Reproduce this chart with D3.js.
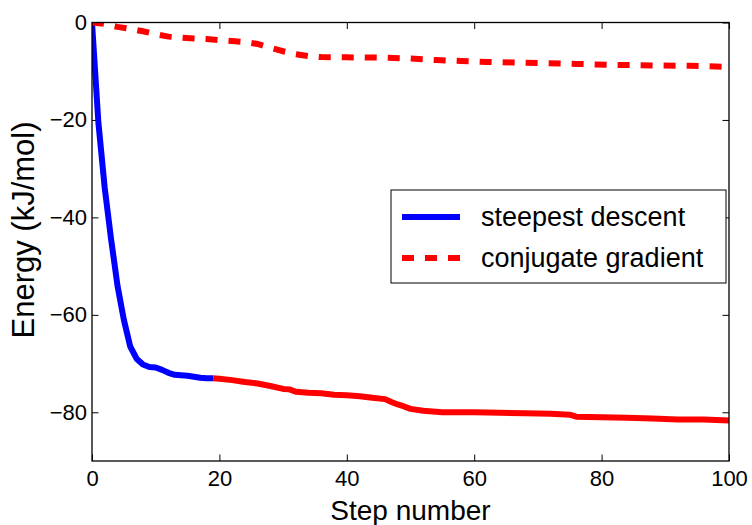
<!DOCTYPE html>
<html><head><meta charset="utf-8">
<script src="https://cdn.jsdelivr.net/npm/d3@7"></script>
<style>
body{margin:0;background:#fff;}
svg{display:block;font-family:"Liberation Sans",Arial,Helvetica,sans-serif;}
</style></head>
<body><svg id="chart" width="752" height="525"></svg>
<script>
// Steepest descent (blue)
const sdSteps  = [0,1,2,3,4,5,6,7,8,9,10,11,12,13,14,15,16,17,18,19];
const sdEnergy = [0,-20.5,-34,-44.5,-54,-61,-66.5,-69,-70.2,-70.7,-70.8,-71.3,-71.9,-72.3,-72.4,-72.5,-72.7,-72.9,-73.0,-73.0];
// Conjugate gradient continued from steepest descent end (red solid)
const cgContSteps  = [19,20,22,24,26,28,30,31,32,34,36,38,40,42,44,46,47,48,49,50,52,55,60,64,68,72,75,76,80,84,88,92,96,100];
const cgContEnergy = [-73.0,-73.1,-73.4,-73.8,-74.1,-74.6,-75.2,-75.3,-75.8,-76.0,-76.1,-76.4,-76.5,-76.7,-77.0,-77.3,-77.9,-78.4,-78.8,-79.3,-79.7,-80.0,-80.0,-80.1,-80.2,-80.3,-80.5,-80.9,-81.0,-81.1,-81.3,-81.5,-81.5,-81.7];
// Conjugate gradient (red dashed)
const cgSteps  = [0,2,4,6,8,10,12,14,16,18,20,22,24,26,28,30,32,34,36,40,46,50,54,58,62,66,70,76,82,88,94,100];
const cgEnergy = [0,-0.3,-0.9,-1.3,-1.8,-2.4,-2.9,-3.1,-3.3,-3.4,-3.6,-3.8,-4.0,-4.4,-5.2,-5.9,-6.5,-6.9,-7.1,-7.15,-7.2,-7.4,-7.7,-7.9,-8.1,-8.2,-8.3,-8.5,-8.7,-8.8,-8.9,-9.1];

const xTicks = [0,20,40,60,80,100];
const yTicks = [0,-20,-40,-60,-80];
const legendLabels = ["steepest descent","conjugate gradient"];

const W=752,H=525;
const m={left:92,top:22.5,right:23,bottom:64};
const iw=W-m.left-m.right, ih=H-m.top-m.bottom;
const svg=d3.select("#chart");
const g=svg.append("g").attr("transform",`translate(${m.left},${m.top})`);

const x=d3.scaleLinear().domain([0,100]).range([0,iw]);
const y=d3.scaleLinear().domain([-90,0]).range([ih,0]);

svg.append("defs").append("clipPath").attr("id","clip")
  .append("rect").attr("x",0).attr("y",0).attr("width",iw).attr("height",ih);

const fmt=d=>d<0?"\u2212"+Math.abs(d):String(d);
const tk=6.5;

function styleAxis(sel,showLabels){
  sel.select(".domain").remove();
  sel.selectAll(".tick line").attr("stroke","#000").attr("stroke-width",1);
  sel.selectAll(".tick text").attr("fill","#000").style("font-size","22px");
  if(!showLabels) sel.selectAll(".tick text").remove();
}
g.append("g").attr("transform",`translate(0,${ih})`)
  .call(d3.axisBottom(x).tickValues(xTicks).tickFormat(fmt).tickSizeInner(-tk).tickSizeOuter(0).tickPadding(9))
  .call(s=>styleAxis(s,true));
g.append("g")
  .call(d3.axisTop(x).tickValues(xTicks).tickSizeInner(-tk).tickSizeOuter(0))
  .call(s=>styleAxis(s,false));
g.append("g")
  .call(d3.axisLeft(y).tickValues(yTicks).tickFormat(fmt).tickSizeInner(-tk).tickSizeOuter(0).tickPadding(5))
  .call(s=>styleAxis(s,true));
g.append("g").attr("transform",`translate(${iw},0)`)
  .call(d3.axisRight(y).tickValues(yTicks).tickSizeInner(-tk).tickSizeOuter(0))
  .call(s=>styleAxis(s,false));

const line=d3.line().x(d=>x(d[0])).y(d=>y(d[1]));
const plot=g.append("g").attr("clip-path","url(#clip)");
plot.append("path").datum(d3.zip(sdSteps,sdEnergy)).attr("d",line)
  .attr("fill","none").attr("stroke","#0000ff").attr("stroke-width",6).attr("stroke-linejoin","round");
plot.append("path").datum(d3.zip(cgContSteps,cgContEnergy)).attr("d",line)
  .attr("fill","none").attr("stroke","#ff0000").attr("stroke-width",6).attr("stroke-linejoin","round");
plot.append("path").datum(d3.zip(cgSteps,cgEnergy)).attr("d",line)
  .attr("fill","none").attr("stroke","#ff0000").attr("stroke-width",6).attr("stroke-dasharray","12,11").attr("stroke-linecap","butt");

// frame
g.append("rect").attr("x",0).attr("y",0).attr("width",iw).attr("height",ih)
  .attr("fill","none").attr("stroke","#000").attr("stroke-width",1.3);

// axis labels
svg.append("text").attr("x",m.left+iw/2).attr("y",520).attr("text-anchor","middle")
  .style("font-size","28px").attr("fill","#000").text("Step number");
svg.append("text").attr("transform",`translate(33.5,230) rotate(-90)`).attr("text-anchor","middle")
  .style("font-size","31px").attr("fill","#000").text("Energy (kJ/mol)");

// legend
const lg=svg.append("g");
lg.append("rect").attr("x",391).attr("y",190).attr("width",335).attr("height",93)
  .attr("fill","#fff").attr("stroke","#000").attr("stroke-width",1);
const items=[{c:"#0000ff",dash:null,y:217},{c:"#ff0000",dash:"12,11",y:258}];
items.forEach((it,i)=>{
  lg.append("line").attr("x1",402).attr("x2",460).attr("y1",it.y).attr("y2",it.y)
    .attr("stroke",it.c).attr("stroke-width",6).attr("stroke-dasharray",it.dash);
  lg.append("text").attr("x",481).attr("y",it.y).attr("dy","0.35em")
    .style("font-size","27px").attr("fill","#000").text(legendLabels[i]);
});
</script></body></html>
